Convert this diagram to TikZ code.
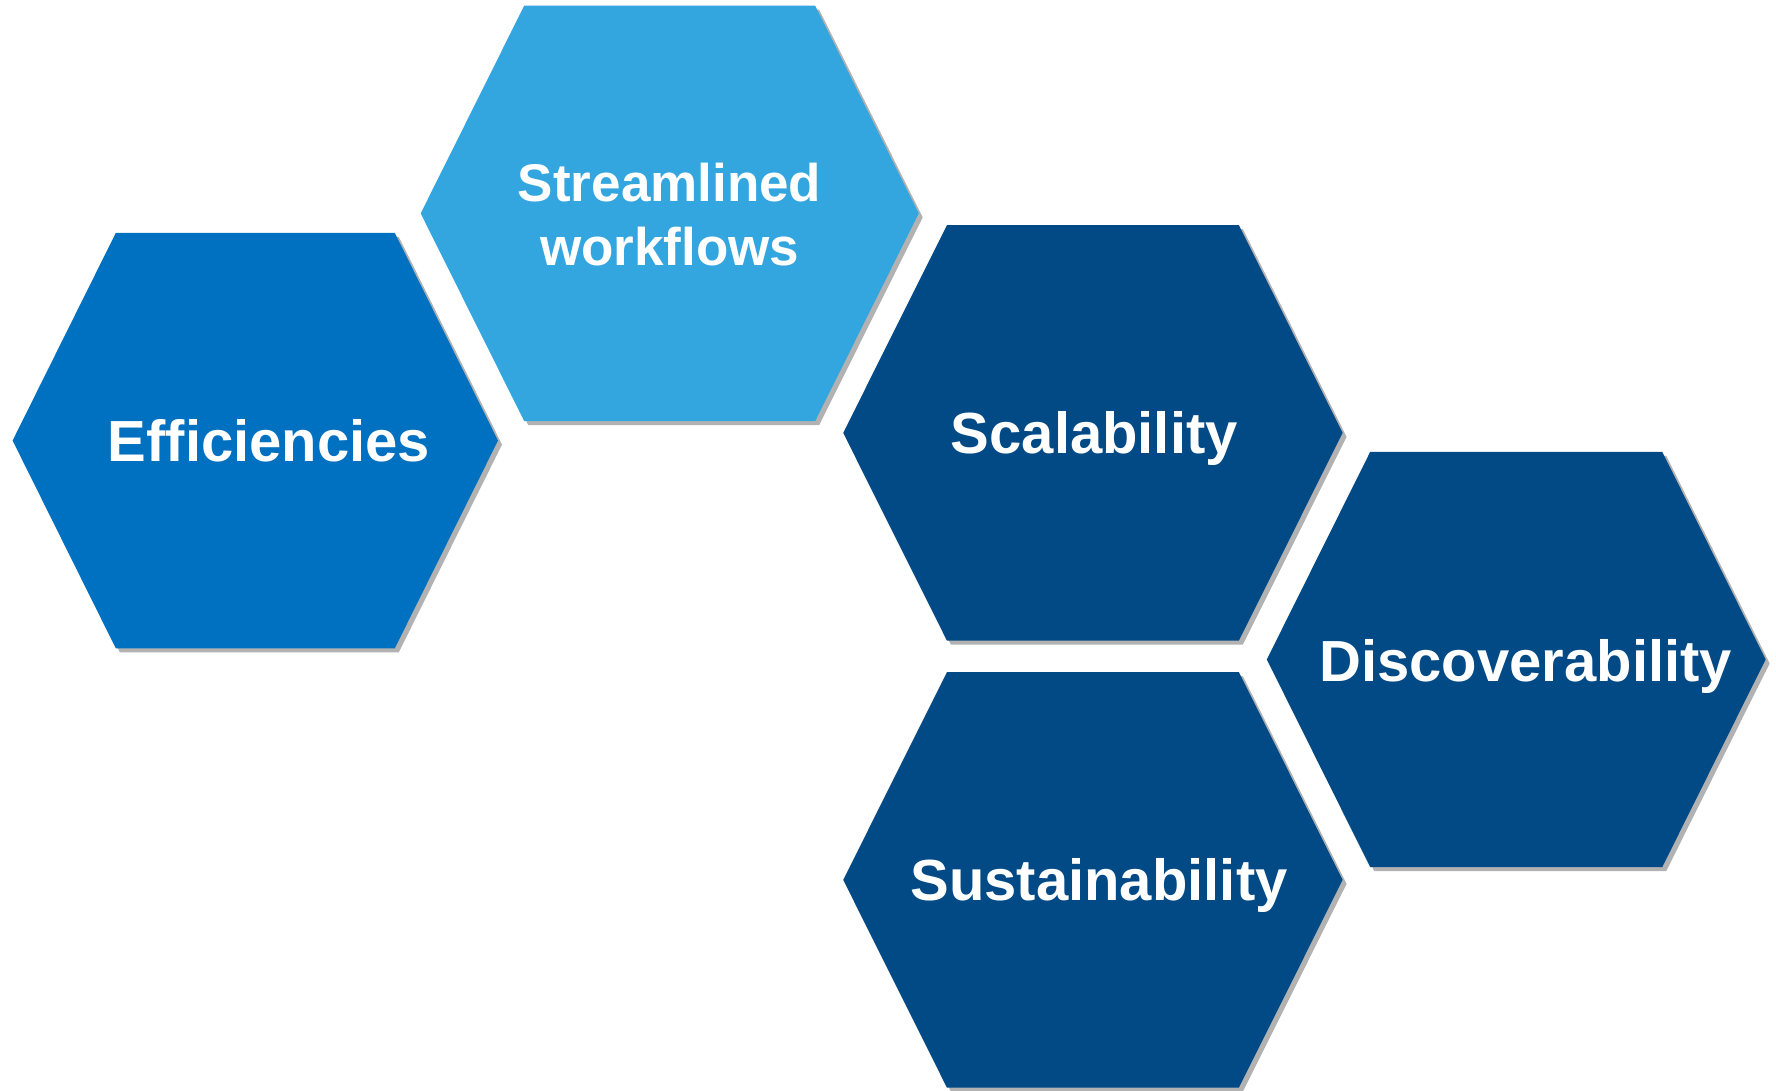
\documentclass[tikz,border=0pt]{standalone}
\usepackage{fontspec}
\setmainfont{Liberation Sans}
\usetikzlibrary{shadows}

\definecolor{effblue}{HTML}{0070C0}
\definecolor{flowblue}{HTML}{33A6E0}
\definecolor{darkblue}{HTML}{024A86}

\begin{document}
\begin{tikzpicture}[x=1pt, y=1pt,
    hexcell/.style={drop shadow={shadow xshift=4pt, shadow yshift=-4pt, opacity=0.3, fill=black}},
    hextext/.style={text=white, font=\fontsize{58}{64}\selectfont\bfseries, inner sep=0pt,
      text height=41.5pt, text depth=0pt}]

  \newcommand\HH{207.7};
  % #1 name, #2 x, #3 y, #4 half width, #5 half top edge, #6 colour
  \newcommand\hexcell[6]{%
    \coordinate (#1) at (#2, #3);
    \fill[hexcell, fill=#6] (#2-#4, #3) -- (#2-#5, #3+\HH) -- (#2+#5, #3+\HH)
      -- (#2+#4, #3) -- (#2+#5, #3-\HH) -- (#2-#5, #3-\HH) -- cycle;
  }

  \useasboundingbox (0,0) rectangle (1776,1091);

  \hexcell{effhex}{255.3}{650.4}{242.7}{139.5}{effblue}
  \hexcell{flowhex}{669.7}{877.6}{249}{145.5}{flowblue}
  \hexcell{scalehex}{1092.9}{658.1}{249.7}{146}{darkblue}
  \hexcell{dischex}{1516.2}{431.5}{249.4}{146}{darkblue}
  \hexcell{susthex}{1092.9}{211.1}{249.7}{146}{darkblue}

  \node[hextext] (eff) at (269, 650.2) {Efficiencies};
  \node[text=white, font=\fontsize{53}{64}\selectfont\bfseries, align=center, inner sep=0pt]
    (flow) at (669.6, 876.7) {Streamlined\\workflows};
  \node[hextext] (scale) at (1094.3, 658) {Scalability};
  \node[hextext] (disc) at (1525.7, 430) {Discoverability};
  \node[hextext] (sust) at (1099, 211) {Sustainability};

\end{tikzpicture}
\end{document}
